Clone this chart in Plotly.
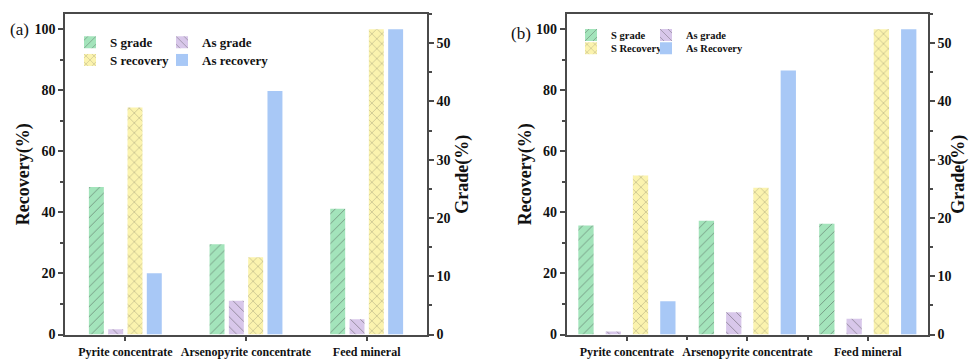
import plotly.graph_objects as go

# Samples along the x axis
categories = ["Pyrite concentrate", "Arsenopyrite concentrate", "Feed mineral"]

# Panel (a): grade (%) and recovery (%)
a_s_grade = [25.3, 15.5, 21.6]
a_as_grade = [0.9, 5.8, 2.6]
a_s_recovery = [74.4, 25.3, 100.0]
a_as_recovery = [20.1, 79.8, 100.0]

# Panel (b): grade (%) and recovery (%)
b_s_grade = [18.7, 19.5, 19.0]
b_as_grade = [0.5, 3.8, 2.7]
b_s_recovery = [52.1, 48.1, 100.0]
b_as_recovery = [10.9, 86.5, 100.0]

rec_ticks = [0, 20, 40, 60, 80, 100]
grade_ticks = [0, 10, 20, 30, 40, 50]

xpos = list(range(len(categories)))

FONT = "Liberation Serif"
AXIS_COLOR = "#4a4a4a"
HATCH = "#3a3a3a"
W, H = 969, 360

STYLE = {
    "sg": dict(color="#a3e4bb", shape="/"),
    "ag": dict(color="#d8c7ea", shape="\\"),
    "sr": dict(color="#fbf3ae", shape="x"),
    "ar": dict(color="#a8c8f6", shape=""),
}


def bar(name, key, y, xa, ya, center, width, legend):
    st = STYLE[key]
    pattern = dict(shape=st["shape"], fillmode="overlay", fgcolor=HATCH,
                   bgcolor=st["color"], size=7, solidity=0.12)
    return go.Bar(
        x=xpos, y=y, name=name, xaxis=xa, yaxis=ya,
        width=width, offset=center - width / 2,
        marker=dict(color=st["color"], line=dict(width=0), pattern=pattern),
        legend=legend, showlegend=True,
    )


fig = go.Figure()

wa = 0.124
fig.add_trace(bar("S grade", "sg", a_s_grade, "x", "y2", -0.24, wa, "legend"))
fig.add_trace(bar("As grade", "ag", a_as_grade, "x", "y2", -0.08, wa, "legend2"))
fig.add_trace(bar("S recovery", "sr", a_s_recovery, "x", "y", 0.08, wa, "legend3"))
fig.add_trace(bar("As recovery", "ar", a_as_recovery, "x", "y", 0.24, wa, "legend4"))

wb = 0.127
fig.add_trace(bar("S grade", "sg", b_s_grade, "x2", "y4", -0.34, wb, "legend5"))
fig.add_trace(bar("As grade", "ag", b_as_grade, "x2", "y4", -0.113, wb, "legend6"))
fig.add_trace(bar("S Recovery", "sr", b_s_recovery, "x2", "y3", 0.113, wb, "legend7"))
fig.add_trace(bar("As Recovery", "ar", b_as_recovery, "x2", "y3", 0.34, wb, "legend8"))

ydom = [1 - 334.5 / H, 1 - 14 / H]
xdom_a = [65 / W, 427 / W]
xdom_b = [566.7 / W, 928 / W]

tickfont = dict(family=FONT, size=14, color="#111", weight="bold")
titlefont = dict(family=FONT, size=18, color="#111", weight="bold")


def xaxis(dom, anchor, minor_vals):
    d = dict(domain=dom, anchor=anchor, range=[-0.5, 2.5], automargin=False,
             tickvals=xpos, ticktext=categories, tickangle=0,
             tickfont=dict(family=FONT, size=12, color="#111", weight="bold"),
             ticks="outside", ticklen=5, tickwidth=1.5, tickcolor=AXIS_COLOR,
             showline=True, linecolor=AXIS_COLOR, linewidth=1.6, mirror=True,
             showgrid=False, zeroline=False, fixedrange=True)
    if minor_vals:
        d["minor"] = dict(tickvals=minor_vals, ticks="outside", ticklen=4,
                          tickcolor=AXIS_COLOR, tickwidth=1.5, showgrid=False)
    return d


def rec_axis(anchor):
    return dict(domain=ydom, anchor=anchor, range=[0, 105], tickvals=rec_ticks,
                automargin=False, tickfont=tickfont, ticks="outside", ticklen=5,
                tickwidth=1.5, tickcolor=AXIS_COLOR, showline=True,
                linecolor=AXIS_COLOR, linewidth=1.6,
                minor=dict(dtick=10, ticks="outside", ticklen=3, tickcolor=AXIS_COLOR,
                           tickwidth=1.5, showgrid=False),
                showgrid=False, zeroline=False,
                title=dict(text="Recovery(%)", font=titlefont, standoff=0))


def grade_axis(anchor, over):
    return dict(overlaying=over, anchor=anchor, side="right", range=[0, 55],
                automargin=False, tickvals=grade_ticks, tickfont=tickfont,
                ticks="outside", ticklen=5, tickwidth=1.5, tickcolor=AXIS_COLOR,
                showline=True, linecolor=AXIS_COLOR, linewidth=1.6,
                minor=dict(dtick=5, ticks="outside", ticklen=3, tickcolor=AXIS_COLOR,
                           tickwidth=1.5, showgrid=False),
                showgrid=False, zeroline=False,
                title=dict(text="Grade(%)", font=titlefont, standoff=6))


def legend(text_x, yc, size):
    # text_x: pixel where the entry label begins
    return dict(x=(text_x - 40) / W, y=1 - yc / H, xanchor="left", yanchor="middle",
                orientation="h", bgcolor="rgba(0,0,0,0)", borderwidth=0,
                font=dict(family=FONT, size=size, color="#111", weight="bold"),
                itemclick=False, itemdoubleclick=False)


fig.update_layout(
    width=W, height=H,
    margin=dict(l=0, r=0, t=0, b=0),
    paper_bgcolor="white", plot_bgcolor="white",
    barmode="overlay",
    xaxis=xaxis(xdom_a, "y", None),
    yaxis=rec_axis("x"),
    yaxis2=grade_axis("x", "y"),
    xaxis2=xaxis(xdom_b, "y3", [0.5, 1.5]),
    yaxis3=rec_axis("x2"),
    yaxis4=grade_axis("x2", "y3"),
    legend=legend(110, 42.3, 13),
    legend2=legend(202, 42.3, 13),
    legend3=legend(110, 60, 13),
    legend4=legend(202, 60, 13),
    legend5=legend(611, 35, 10.5),
    legend6=legend(686, 35, 10.5),
    legend7=legend(611, 48.3, 10.5),
    legend8=legend(686, 48.3, 10.5),
    annotations=[
        dict(text="(a)", x=8 / W, y=1 - 29 / H, xref="paper", yref="paper",
             xanchor="left", yanchor="middle", showarrow=False,
             font=dict(family=FONT, size=17, color="#111")),
        dict(text="(b)", x=509 / W, y=1 - 33 / H, xref="paper", yref="paper",
             xanchor="left", yanchor="middle", showarrow=False,
             font=dict(family=FONT, size=17, color="#111")),
    ],
)

fig.write_html("out.html")
